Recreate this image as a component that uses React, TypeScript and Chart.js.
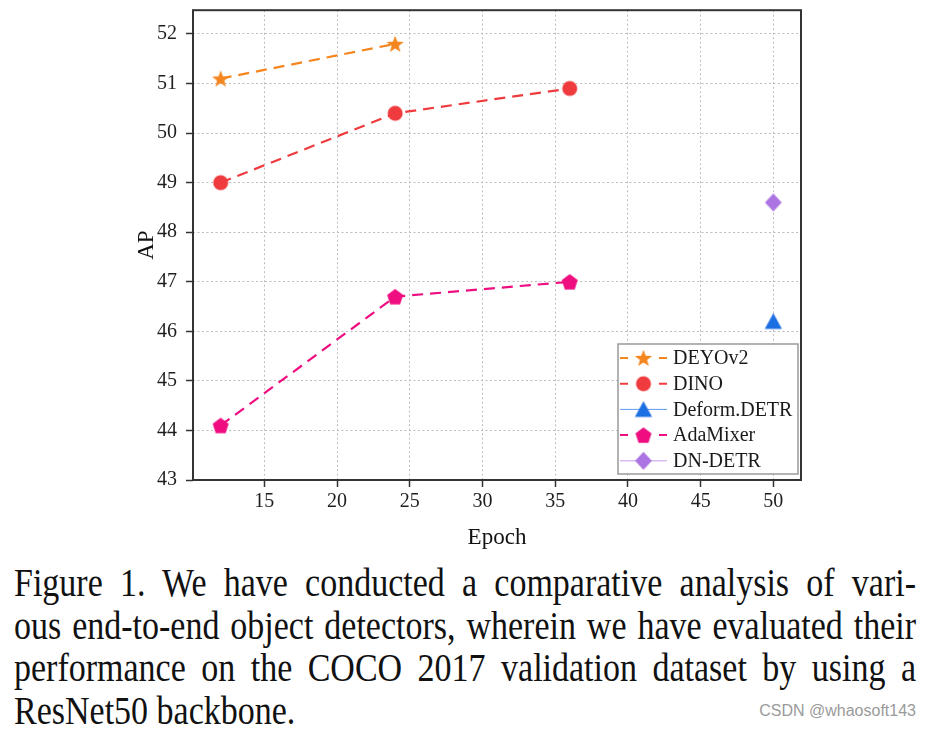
import React, { useEffect, useRef } from "react";
import { Chart, registerables } from "chart.js";

Chart.register(...registerables);

// ---- data ----
const seriesLabels = ["DEYOv2", "DINO", "Deform.DETR", "AdaMixer", "DN-DETR"];
const deyoEpochs = [12, 24];
const deyoAP = [51.1, 51.8];
const dinoEpochs = [12, 24, 36];
const dinoAP = [49.0, 50.4, 50.9];
const deformEpochs = [50];
const deformAP = [46.2];
const adaEpochs = [12, 24, 36];
const adaAP = [44.1, 46.7, 47.0];
const dnEpochs = [50];
const dnAP = [48.6];

const xTicks = [15, 20, 25, 30, 35, 40, 45, 50];
const yTicks = [43, 44, 45, 46, 47, 48, 49, 50, 51, 52];

const xTitle = "Epoch";
const yTitle = "AP";

const captionLines = [
  "Figure 1. We have conducted a comparative analysis of vari-",
  "ous end-to-end object detectors, wherein we have evaluated their",
  "performance on the COCO 2017 validation dataset by using a",
  "ResNet50 backbone.",
];
const watermark = "CSDN @whaosoft143";

// ---- styles ----
const SERIF = '"Liberation Serif", "Times New Roman", serif';
const colors = ["#F5861F", "#EF3B3D", "#1C6FE3", "#EE0E80", "#AC74E2"];
const shapes = ["star", "circle", "triangle", "pentagon", "diamond"];
const dashed = [true, true, false, true, false];

function makeMarker(shape: string, color: string): HTMLCanvasElement {
  const s = 26;
  const c = document.createElement("canvas");
  c.width = s;
  c.height = s;
  const ctx = c.getContext("2d")!;
  ctx.translate(s / 2, s / 2);
  ctx.fillStyle = color;
  ctx.beginPath();
  if (shape === "circle") {
    ctx.arc(0, 0, 7.5, 0, Math.PI * 2);
  } else if (shape === "star") {
    for (let i = 0; i < 10; i++) {
      const r = i % 2 === 0 ? 9 : 3.8;
      const a = -Math.PI / 2 + (i * Math.PI) / 5;
      const px = r * Math.cos(a);
      const py = r * Math.sin(a) + 0.8;
      if (i === 0) ctx.moveTo(px, py);
      else ctx.lineTo(px, py);
    }
    ctx.closePath();
  } else if (shape === "pentagon") {
    for (let i = 0; i < 5; i++) {
      const a = -Math.PI / 2 + (i * 2 * Math.PI) / 5;
      const px = 8.4 * Math.cos(a);
      const py = 8.6 * Math.sin(a) + 0.8;
      if (i === 0) ctx.moveTo(px, py);
      else ctx.lineTo(px, py);
    }
    ctx.closePath();
  } else if (shape === "triangle") {
    ctx.moveTo(0, -8.2);
    ctx.lineTo(8.6, 7.4);
    ctx.lineTo(-8.6, 7.4);
    ctx.closePath();
  } else if (shape === "diamond") {
    ctx.moveTo(0, -9);
    ctx.lineTo(8.4, 0);
    ctx.lineTo(0, 9);
    ctx.lineTo(-8.4, 0);
    ctx.closePath();
  }
  ctx.fill();
  return c;
}

export default function App() {
  const canvasRef = useRef<HTMLCanvasElement | null>(null);

  useEffect(() => {
    const canvas = canvasRef.current;
    if (!canvas) return;
    const markers = shapes.map((s, i) => makeMarker(s, colors[i]));
    const xs = [deyoEpochs, dinoEpochs, deformEpochs, adaEpochs, dnEpochs];
    const ys = [deyoAP, dinoAP, deformAP, adaAP, dnAP];

    const datasets = seriesLabels.map((label, i) => ({
      label,
      data: xs[i].map((x, j) => ({ x, y: ys[i][j] })),
      borderColor: colors[i],
      backgroundColor: colors[i],
      borderWidth: 2.2,
      borderDash: dashed[i] ? [11, 7] : [],
      pointStyle: markers[i] as any,
      pointRadius: 8,
      pointHoverRadius: 8,
      showLine: true,
      fill: false,
      tension: 0,
    }));

    const framePlugin = {
      id: "frameLegend",
      afterDatasetsDraw(chart: any) {
        const { ctx, chartArea: a } = chart;
        ctx.save();
        ctx.strokeStyle = "#333333";
        ctx.lineWidth = 2;
        ctx.setLineDash([]);
        ctx.strokeRect(a.left, a.top, a.right - a.left, a.bottom - a.top);
        ctx.restore();
      },
      afterDraw(chart: any) {
        const { ctx, chartArea: a } = chart;
        const w = 180;
        const h = 130;
        const bx = a.right - 3 - w;
        const by = a.bottom - 6 - h;
        ctx.save();
        ctx.fillStyle = "rgba(255,255,255,0.95)";
        ctx.fillRect(bx, by, w, h);
        ctx.strokeStyle = "#9a9a9a";
        ctx.lineWidth = 1.5;
        ctx.strokeRect(bx, by, w, h);
        const rowH = 25.7;
        const y0 = by + 14;
        chart.data.datasets.forEach((ds: any, i: number) => {
          const cy = y0 + i * rowH;
          const lx1 = bx + 2;
          const lx2 = bx + 49;
          const mx = (lx1 + lx2) / 2;
          ctx.strokeStyle = ds.borderColor;
          ctx.setLineDash([]);
          if (dashed[i]) {
            ctx.lineWidth = 2;
            ctx.beginPath();
            ctx.moveTo(lx1, cy);
            ctx.lineTo(lx1 + 8, cy);
            ctx.moveTo(lx2 - 8, cy);
            ctx.lineTo(lx2, cy);
            ctx.stroke();
          } else {
            ctx.lineWidth = 1;
            ctx.globalAlpha = 0.7;
            ctx.beginPath();
            ctx.moveTo(lx1, cy);
            ctx.lineTo(lx2, cy);
            ctx.stroke();
            ctx.globalAlpha = 1;
          }
          const img = ds.pointStyle as HTMLCanvasElement;
          ctx.drawImage(img, mx - img.width / 2, cy - img.height / 2);
          ctx.fillStyle = "#1a1a1a";
          ctx.font = `20px ${SERIF}`;
          ctx.textBaseline = "middle";
          ctx.textAlign = "left";
          ctx.fillText(ds.label, bx + 55, cy + 1);
        });
        ctx.restore();
      },
    };

    const chart = new Chart(canvas, {
      type: "line",
      data: { datasets: datasets as any },
      options: {
        animation: false,
        responsive: false,
        maintainAspectRatio: false,
        layout: { padding: { left: 130, top: 9, right: 131, bottom: 0 } },
        plugins: {
          legend: { display: false },
          tooltip: { enabled: false },
        },
        scales: {
          x: {
            type: "linear",
            min: 10.1,
            max: 51.9,
            afterFit: (s: any) => {
              s.height = 80;
              s.paddingLeft = 0;
              s.paddingRight = 0;
            },
            afterBuildTicks: (s: any) => {
              s.ticks = xTicks.map((v) => ({ value: v }));
            },
            ticks: {
              color: "#1e1e1e",
              font: { family: SERIF, size: 20 },
              padding: 3,
              maxRotation: 0,
              autoSkip: false,
            },
            grid: {
              color: "#bdbdbd",
              lineWidth: 1,
              drawTicks: true,
              tickLength: 7,
              tickColor: "#333333",
              tickWidth: 1.5,
              tickBorderDash: [],
            },
            border: { display: false, dash: [2, 2.5] },
            title: {
              display: true,
              text: xTitle,
              color: "#111111",
              font: { family: SERIF, size: 23 },
              padding: { top: 0, bottom: 8 },
            },
          },
          y: {
            type: "linear",
            min: 43,
            max: 52.48,
            afterFit: (s: any) => {
              s.width = 63;
              s.paddingTop = 0;
              s.paddingBottom = 0;
            },
            afterBuildTicks: (s: any) => {
              s.ticks = yTicks.map((v) => ({ value: v }));
            },
            ticks: {
              color: "#1e1e1e",
              font: { family: SERIF, size: 20 },
              padding: 9,
              autoSkip: false,
            },
            grid: {
              color: "#bdbdbd",
              lineWidth: 1,
              drawTicks: true,
              tickLength: 7,
              tickColor: "#333333",
              tickWidth: 1.5,
              tickBorderDash: [],
            },
            border: { display: false, dash: [2, 2.5] },
            title: {
              display: true,
              text: yTitle,
              color: "#111111",
              font: { family: SERIF, size: 23 },
              padding: { top: 3, bottom: 0 },
            },
          },
        },
      },
      plugins: [framePlugin],
    });

    return () => chart.destroy();
  }, []);

  const sx = 0.85;
  return (
    <div style={{ position: "absolute", left: 0, top: 0, width: 932, height: 729, background: "#ffffff", overflow: "hidden" }}>
      <canvas ref={canvasRef} width={932} height={560} style={{ position: "absolute", left: 0, top: 0 }} />
      <div
        style={{
          position: "absolute",
          left: 14,
          top: 562,
          width: 902 / sx,
          fontFamily: SERIF,
          fontSize: 40,
          lineHeight: "42.5px",
          color: "#111111",
          transform: `scaleX(${sx})`,
          transformOrigin: "0 0",
        }}
      >
        {captionLines.map((line, i) => (
          <div
            key={i}
            style={{
              whiteSpace: "nowrap",
              textAlign: i < captionLines.length - 1 ? "justify" : "left",
              textAlignLast: i < captionLines.length - 1 ? "justify" : "left",
            } as any}
          >
            {line}
          </div>
        ))}
      </div>
      <div
        style={{
          position: "absolute",
          right: 16,
          top: 702,
          fontFamily: '"Liberation Sans", Arial, sans-serif',
          fontSize: 16,
          color: "#9a9a9a",
          whiteSpace: "nowrap",
        }}
      >
        {watermark}
      </div>
    </div>
  );
}
